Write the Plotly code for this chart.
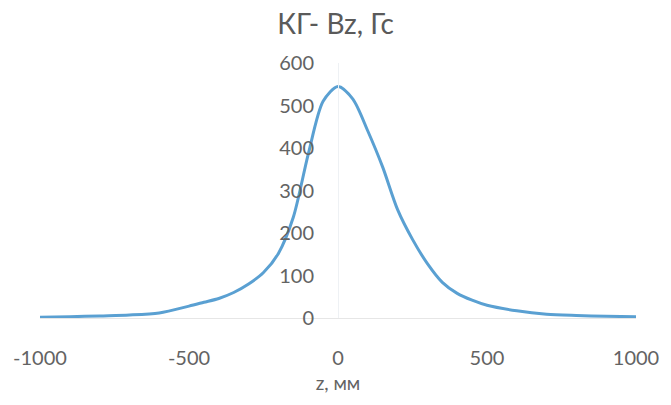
import plotly.graph_objects as go

z_mm = [-1000, -900, -800, -700, -600, -500, -450, -400, -350, -300, -250, -200, -150,
        -100, -50, 0, 50, 100, 150, 200, 250, 300, 350, 400, 450, 500, 600, 700, 800, 900, 1000]
bz_gs = [2, 3, 5, 7, 12, 28, 37, 46, 60, 80, 107, 152, 237,
         385, 510, 545, 515, 440, 355, 255, 185, 128, 84, 58, 42, 30, 17, 9, 6, 4, 3]

x_ticks = [-1000, -500, 0, 500, 1000]
y_ticks = [0, 100, 200, 300, 400, 500, 600]

fig = go.Figure()
fig.add_trace(go.Scatter(
    x=z_mm, y=bz_gs, mode="lines",
    line=dict(color="#5aa0d2", width=3, shape="spline", smoothing=0.8),
    showlegend=False, hoverinfo="x+y",
))

font_family = "Lato, 'Open Sans', sans-serif"
fig.update_layout(
    width=671, height=405,
    margin=dict(l=40, r=35, t=63, b=87, autoexpand=False),
    paper_bgcolor="white", plot_bgcolor="white",
    font=dict(family=font_family, color="#595959", size=20),
    title=dict(text="КГ- Bz, Гс", x=0.5, xanchor="center", y=0.94, yanchor="middle",
               font=dict(size=28, color="#5a5a5a", family=font_family)),
    xaxis=dict(
        range=[-1000, 1000], domain=[0, 1], automargin=False,
        tickvals=x_ticks, ticktext=[str(v) for v in x_ticks],
        showgrid=False, zeroline=False,
        showline=True, linecolor="#e6e6e6", linewidth=1,
        ticks="", ticklabelstandoff=22,
        tickfont=dict(size=20, color="#636363"),
        title=dict(text="z, мм", font=dict(size=19, color="#636363"), standoff=8),
    ),
    yaxis=dict(
        range=[0, 600], anchor="free", position=0.5, automargin=False,
        tickvals=y_ticks, ticktext=[str(v) for v in y_ticks],
        showgrid=False, zeroline=False,
        showline=True, linecolor="#eef1f4", linewidth=1,
        ticks="", ticklabelstandoff=20,
        tickfont=dict(size=20, color="#636363"),
    ),
)

fig.write_html("out.html", config={"displayModeBar": False},
               post_script="document.body.style.margin='0';document.body.style.overflow='hidden';")
